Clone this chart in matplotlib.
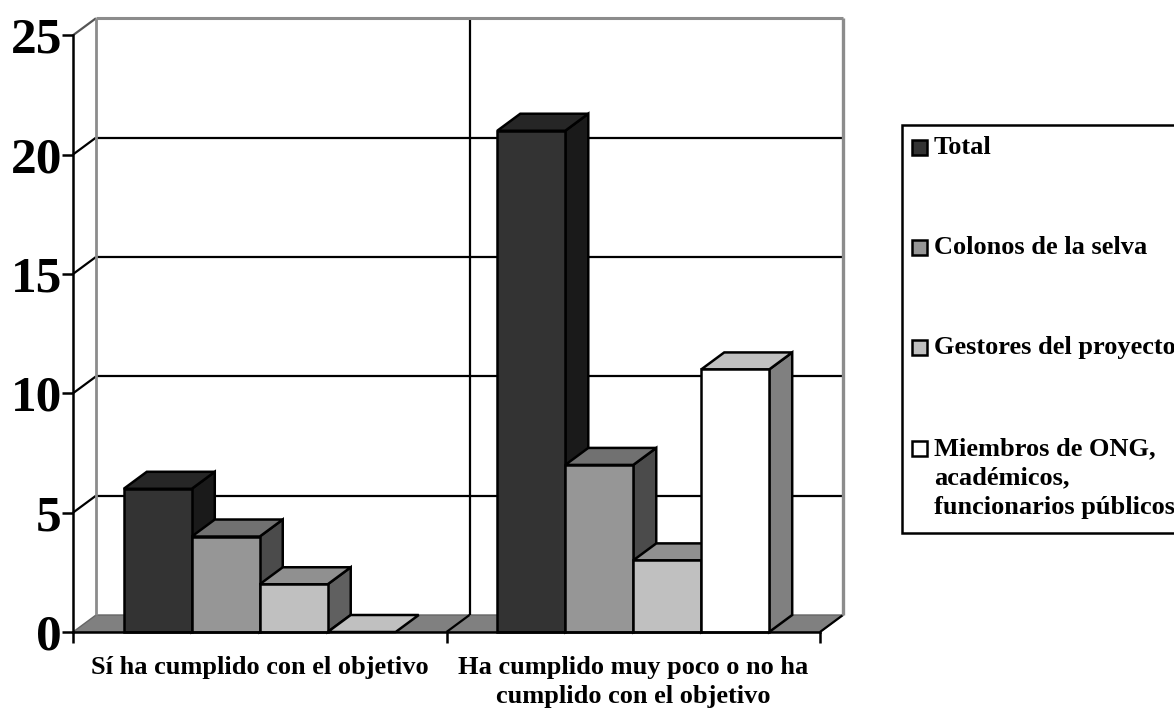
import matplotlib
matplotlib.use('Agg')
import matplotlib.pyplot as plt
from matplotlib.patches import Polygon, Rectangle

plt.rcParams['font.family'] = ['Liberation Serif']
plt.rcParams['font.weight'] = 'bold'

categories = ['Sí ha cumplido con el objetivo',
              'Ha cumplido muy poco o no ha\ncumplido con el objetivo']
series_names = ['Total', 'Colonos de la selva', 'Gestores del proyecto',
                'Miembros de ONG,\nacadémicos,\nfuncionarios públicos']
total = [6, 21]
colonos = [4, 7]
gestores = [2, 3]
miembros = [0, 11]
y_ticks = [0, 5, 10, 15, 20, 25]

series = [total, colonos, gestores, miembros]
# front, top and side shade of each series
shades = [('#333333', '#262626', '#1a1a1a'),
          ('#969696', '#717171', '#4b4b4b'),
          ('#c0c0c0', '#909090', '#606060'),
          ('#ffffff', '#c0c0c0', '#808080')]

W, H = 1174, 711
fig = plt.figure(figsize=(W / 100, H / 100), dpi=100)
ax = fig.add_axes([73 / W, (H - 632) / H, 747 / W, 596.75 / H])
ax.set_xlim(0, 2)
ax.set_ylim(0, 25)

# depth of the box, in axis units
dx = 23 / 373.5
dy = 17 / 23.87
bar_w = 0.182
lw = 1.8
grid_lw = 1.6


def poly(pts, face, edge='black', z=3, width=lw):
    ax.add_patch(Polygon(pts, closed=True, facecolor=face, edgecolor=edge, linewidth=width,
                         joinstyle='miter', clip_on=False, zorder=z))


def line(xs, ys, color='black', z=2, width=grid_lw):
    ax.plot(xs, ys, color=color, linewidth=width, clip_on=False, zorder=z,
            solid_capstyle='butt')


# floor
poly([(0, 0), (2, 0), (2 + dx, dy), (dx, dy)], '#808080', edge='#666666', z=1, width=1)

# back wall grid
for v in y_ticks[1:-1]:
    line([0, dx], [v, v + dy])
    line([dx, 2 + dx], [v + dy, v + dy])
line([0, dx], [25, 25 + dy], color='#555555')
line([1 + dx, 1 + dx], [dy, 25 + dy])
line([1, 1 + dx], [0, dy])
line([2, 2 + dx], [0, dy])

# wall frame
line([dx, dx], [dy, 25 + dy], color='#8c8c8c', width=2)
line([dx, 2 + dx], [25 + dy, 25 + dy], color='#8c8c8c', width=2.2)
line([2 + dx, 2 + dx], [dy, 25 + dy], color='#8c8c8c', width=2.4)

# bars, left to right so the nearer side faces are overlapped
z = 3
for c in range(len(categories)):
    start = c + 0.5 - bar_w * len(series) / 2
    for s, values in enumerate(series):
        v = values[c]
        x0 = start + s * bar_w
        x1 = x0 + bar_w
        front, top, side = shades[s]
        if v > 0:
            poly([(x1, 0), (x1 + dx, dy), (x1 + dx, v + dy), (x1, v)], side, z=z)
        poly([(x0, v), (x1, v), (x1 + dx, v + dy), (x0 + dx, v + dy)], top, z=z)
        if v > 0:
            poly([(x0, 0), (x1, 0), (x1, v), (x0, v)], front, z=z)
        z += 1

for name in ['top', 'right']:
    ax.spines[name].set_visible(False)
for name in ['left', 'bottom']:
    ax.spines[name].set_linewidth(lw)
    ax.spines[name].set_zorder(30)

ax.patch.set_alpha(0)
ax.set_yticks(y_ticks)
ax.tick_params(axis='y', length=8, width=lw, pad=0, labelsize=37)
ax.set_xticks([0, 1, 2])
ax.set_xticklabels([])
ax.set_xticks([0.5, 1.5], labels=categories, minor=True)
ax.tick_params(axis='x', which='major', length=8, width=lw)
ax.tick_params(axis='x', which='minor', length=0, pad=17, labelsize=19)
for label in ax.get_xticklabels(minor=True):
    label.set_linespacing(1.35)

# legend box runs off the right edge of the figure
fig.add_artist(Rectangle((902 / W, (H - 533) / H), 300 / W, 408 / H, transform=fig.transFigure,
                         facecolor='white', edgecolor='black', linewidth=lw))
legend_y = [147, 247, 347, 448]
for name, ly, sh in zip(series_names, legend_y, shades):
    fig.add_artist(Rectangle((912 / W, (H - ly - 7.5) / H), 15 / W, 15 / H,
                             transform=fig.transFigure, facecolor=sh[0],
                             edgecolor='black', linewidth=lw))
    fig.text(934 / W, (H - ly + 11) / H, name, fontsize=19, va='top', ha='left',
             linespacing=1.35)

fig.savefig('out.png', dpi=100)
